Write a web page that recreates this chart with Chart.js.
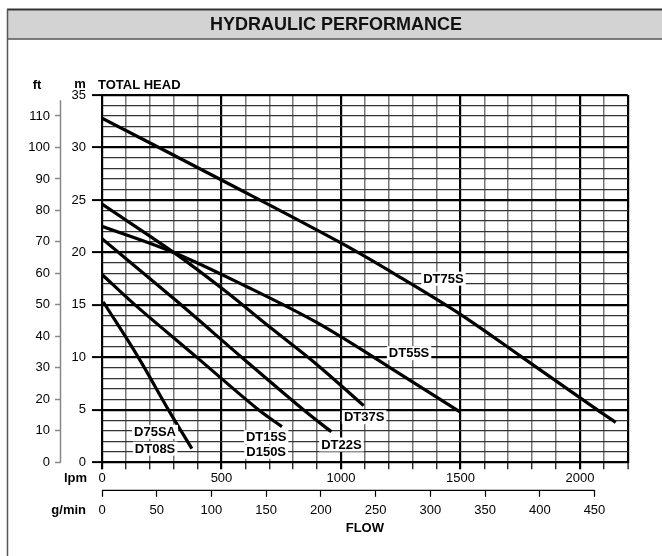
<!DOCTYPE html>
<html>
<head>
<meta charset="utf-8">
<title>Hydraulic performance</title>
<script src="https://cdn.jsdelivr.net/npm/chart.js@4.4.0/dist/chart.umd.min.js"></script>
<style>
  html, body { margin: 0; padding: 0; background: #fff; }
  canvas { display: block; }
</style>
</head>
<body>
<canvas id="perfChart" width="662" height="556"></canvas>
<script>
// Pump curves: flow in lpm, total head in metres
const dt75sFlow = [0, 500, 1000, 1250, 1500, 1759, 2073, 2150];
const dt75sHead = [32.8, 26.9, 20.9, 17.6, 14.1, 10.0, 5.0, 3.8];
const dt55sFlow = [0, 300, 600, 900, 1200, 1498];
const dt55sHead = [22.5, 20.0, 16.8, 13.3, 9.1, 4.8];
const dt37sFlow = [0, 300, 500, 718, 900, 1095];
const dt37sHead = [24.6, 20.0, 16.6, 12.6, 9.3, 5.4];
const dt22sFlow = [0, 300, 600, 843, 960];
const dt22sHead = [21.3, 15.6, 9.7, 5.0, 2.9];
const dt15sFlow = [0, 138, 397, 655, 753];
const dt15sHead = [17.9, 15.0, 10.0, 5.0, 3.4];
const dt08sFlow = [5, 152, 278, 376];
const dt08sHead = [15.3, 10.0, 5.0, 1.3];

// Curve labels (placed in data units)
const labelText = ['DT75S', 'DT55S', 'DT37S', 'DT22S', 'DT15S', 'D150S', 'D75SA', 'DT08S'];
const labelFlow = [1429, 1285, 1097, 1002, 687, 687, 222, 222];
const labelHead = [17.5, 10.4, 4.3, 1.7, 2.4, 1.0, 2.9, 1.3];

// Axes
const lpmMax = 2200;
const headMax = 35;
const lpmPerGal = 4.58;
const mPerFt = 0.3;
const gpmLast = 450;
const ftLast = 110;

const FONT = "'Liberation Sans', Arial, Helvetica, sans-serif";
Chart.defaults.font.family = FONT;
Chart.defaults.color = '#000';

function series(flow, head) {
  return flow.map((f, i) => ({ x: f, y: head[i] }));
}

function curve(flow, head) {
  return {
    data: series(flow, head),
    borderColor: '#000',
    borderWidth: 3.2,
    pointRadius: 0,
    fill: false,
    tension: 0.35,
    borderCapStyle: 'butt'
  };
}

// frame, title bar, extra texts, curve labels
const decorPlugin = {
  id: 'decor',
  beforeDraw(chart) {
    const ctx = chart.ctx;
    ctx.save();
    ctx.fillStyle = '#fff';
    ctx.fillRect(0, 0, chart.width, chart.height);
    // title bar
    ctx.fillStyle = '#d3d3d3';
    ctx.fillRect(7, 9, chart.width - 7, 30);
    ctx.strokeStyle = '#333';
    ctx.lineWidth = 2;
    ctx.beginPath();
    ctx.moveTo(7, 9.5); ctx.lineTo(chart.width, 9.5);
    ctx.stroke();
    ctx.strokeStyle = '#555';
    ctx.lineWidth = 1.5;
    ctx.beginPath();
    ctx.moveTo(7, 39); ctx.lineTo(chart.width, 39);
    ctx.moveTo(7.5, 9); ctx.lineTo(7.5, chart.height);
    ctx.stroke();
    ctx.fillStyle = '#111';
    ctx.font = 'bold 18px ' + FONT;
    ctx.textAlign = 'center';
    ctx.textBaseline = 'middle';
    ctx.fillText('HYDRAULIC PERFORMANCE', 336, 25);
    ctx.restore();
  },
  afterDatasetsDraw(chart) {
    const ctx = chart.ctx;
    const xs = chart.scales.x, ys = chart.scales.y;
    ctx.save();
    ctx.font = 'bold 13px ' + FONT;
    ctx.textAlign = 'center';
    ctx.textBaseline = 'middle';
    labelText.forEach((t, i) => {
      const px = xs.getPixelForValue(labelFlow[i]);
      const py = ys.getPixelForValue(labelHead[i]);
      const w = ctx.measureText(t).width + 4;
      ctx.fillStyle = '#fff';
      ctx.fillRect(px - w / 2, py - 7, w, 14);
      ctx.fillStyle = '#000';
      ctx.fillText(t, px, py + 0.5);
    });
    ctx.restore();
  },
  afterDraw(chart) {
    const ctx = chart.ctx;
    const area = chart.chartArea;
    const ft = chart.scales.yft, g = chart.scales.xg;
    ctx.save();
    // ft axis line
    ctx.strokeStyle = '#888';
    ctx.lineWidth = 1.5;
    ctx.beginPath();
    ctx.moveTo(ft.right - 0.5, ft.getPixelForValue(0));
    ctx.lineTo(ft.right - 0.5, ft.getPixelForValue(115));
    ctx.stroke();
    // g/min axis line
    ctx.strokeStyle = '#000';
    ctx.lineWidth = 1.2;
    ctx.beginPath();
    ctx.moveTo(g.getPixelForValue(0), g.top + 0.6);
    ctx.lineTo(g.getPixelForValue(gpmLast), g.top + 0.6);
    ctx.stroke();
    // headings
    ctx.fillStyle = '#000';
    ctx.font = 'bold 13px ' + FONT;
    ctx.textBaseline = 'middle';
    ctx.textAlign = 'center';
    ctx.fillText('ft', 37, area.top - 10);
    ctx.fillText('m', 80, area.top - 11);
    ctx.textAlign = 'left';
    ctx.fillText('TOTAL HEAD', 98, area.top - 10);
    ctx.textAlign = 'right';
    ctx.fillText('lpm', 87, area.bottom + 16);
    ctx.fillText('g/min', 86, g.top + 21);
    ctx.restore();
  }
};

new Chart(document.getElementById('perfChart'), {
  type: 'line',
  data: {
    datasets: [
      curve(dt75sFlow, dt75sHead),
      curve(dt55sFlow, dt55sHead),
      curve(dt37sFlow, dt37sHead),
      curve(dt22sFlow, dt22sHead),
      curve(dt15sFlow, dt15sHead),
      curve(dt08sFlow, dt08sHead)
    ]
  },
  options: {
    responsive: false,
    animation: false,
    devicePixelRatio: 1,
    layout: { padding: { left: 21, right: 34.3, top: 95, bottom: 17.2 } },
    plugins: { legend: { display: false }, tooltip: { enabled: false } },
    scales: {
      x: {
        type: 'linear',
        position: 'bottom',
        weight: 0,
        min: 0,
        max: lpmMax,
        afterFit: s => { s.height = 27.5; },
        border: { display: true, color: '#000', width: 2 },
        grid: {
          tickLength: 7,
          color: c => (c.tick.value % 500 === 0 || c.tick.value === lpmMax) ? '#000' : '#777',
          lineWidth: c => (c.tick.value % 500 === 0 || c.tick.value === lpmMax) ? 2.2 : 1.5,
          tickColor: '#000',
          tickWidth: c => (c.tick.value % 500 === 0) ? 2.2 : 1.2
        },
        ticks: {
          stepSize: 100,
          autoSkip: false,
          maxRotation: 0,
          padding: 1,
          font: { size: 13 },
          callback: v => (v % 500 === 0 ? v : '')
        }
      },
      xg: {
        type: 'linear',
        position: 'bottom',
        weight: 1,
        min: 0,
        max: lpmMax / lpmPerGal,
        afterFit: s => { s.height = 49; },
        border: { display: false },
        grid: {
          drawOnChartArea: false,
          tickLength: 7,
          tickColor: c => (c.tick.value <= gpmLast ? '#000' : 'rgba(0,0,0,0)'),
          tickWidth: 1.2
        },
        ticks: {
          stepSize: 50,
          includeBounds: false,
          autoSkip: false,
          maxRotation: 0,
          padding: 6,
          font: { size: 13 },
          callback: v => (v <= gpmLast ? v : '')
        },
        title: {
          display: true,
          text: 'FLOW',
          font: { size: 13, weight: 'bold' },
          padding: { top: 0, bottom: 3 }
        }
      },
      y: {
        type: 'linear',
        position: 'left',
        weight: 0,
        min: 0,
        max: headMax,
        afterFit: s => { s.width = 41; },
        border: { display: true, color: '#000', width: 2 },
        grid: {
          tickLength: 10,
          color: c => (c.tick.value % 5 === 0) ? '#000' : '#333',
          lineWidth: c => (c.tick.value % 5 === 0) ? 2.2 : 1.3,
          tickColor: c => (c.tick.value % 5 === 0) ? '#000' : 'rgba(0,0,0,0)',
          tickWidth: 2
        },
        ticks: {
          stepSize: 1,
          autoSkip: false,
          padding: 6,
          font: { size: 13 },
          callback: v => (v % 5 === 0 ? v : '')
        }
      },
      yft: {
        type: 'linear',
        position: 'left',
        weight: 1,
        min: 0,
        max: headMax / mPerFt,
        afterFit: s => { s.width = 40; },
        border: { display: false },
        grid: {
          drawOnChartArea: false,
          tickLength: 6,
          tickColor: c => (c.tick.value <= ftLast ? '#888' : 'rgba(0,0,0,0)'),
          tickWidth: 1.5
        },
        ticks: {
          stepSize: 10,
          includeBounds: false,
          autoSkip: false,
          padding: 5,
          font: { size: 13 },
          callback: v => (v <= ftLast ? v : '')
        }
      }
    }
  },
  plugins: [decorPlugin]
});
</script>
</body>
</html>
